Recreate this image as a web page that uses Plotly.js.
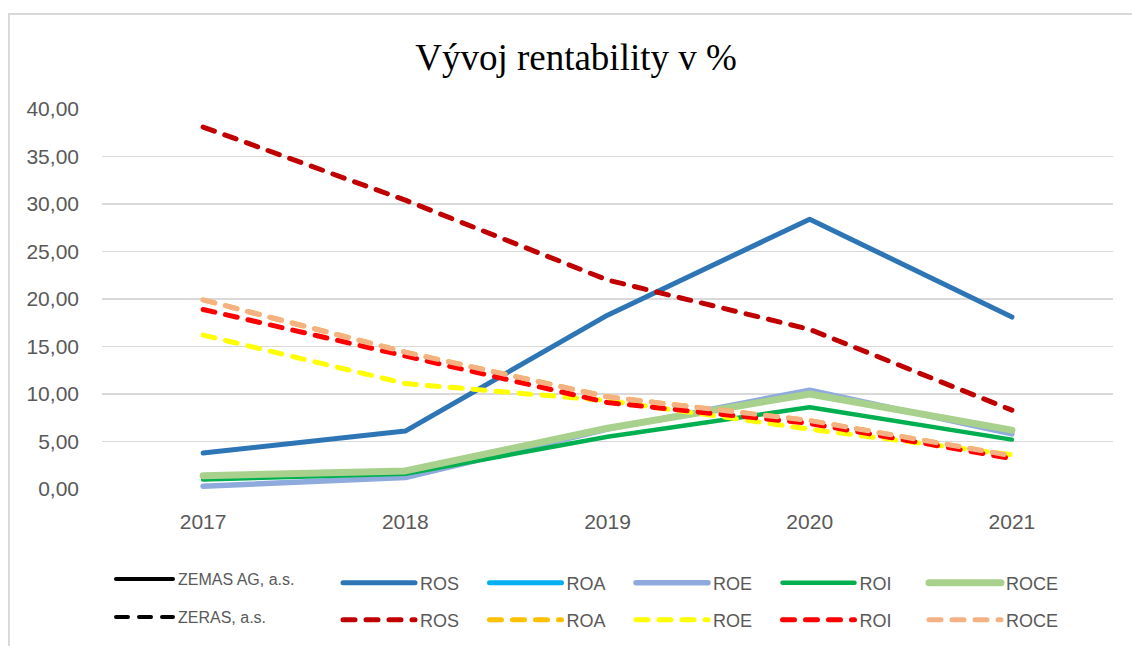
<!DOCTYPE html>
<html>
<head>
<meta charset="utf-8">
<script src="https://cdn.plot.ly/plotly-3.0.1.min.js"></script>
<style>
  html, body { margin: 0; padding: 0; background: #fff; overflow: hidden; }
  #chart { width: 1132px; height: 646px; position: absolute; left: 0; top: 0; }
  #frame { position: absolute; left: 8px; top: 13px; width: 2000px; height: 2000px;
           border-left: 2px solid #d9d9d9; border-top: 2px solid #d9d9d9; pointer-events: none; }
  .js-line { stroke-linecap: round !important; stroke-linejoin: round !important; }
</style>
</head>
<body>
<div id="chart"></div>
<div id="frame"></div>
<script>
// ---- data ----
const years = ["2017", "2018", "2019", "2020", "2021"];
const metricNames = ["ROS", "ROA", "ROE", "ROI", "ROCE"];
const companyA = "ZEMAS AG, a.s.";
const companyB = "ZERAS, a.s.";

// ZEMAS AG, a.s.
const zemasROS  = [3.8, 6.1, 18.3, 28.4, 18.1];
const zemasROA  = [1.4, 1.9, 6.4, 10.0, 6.2];
const zemasROE  = [0.3, 1.2, 6.3, 10.4, 5.8];
const zemasROI  = [1.0, 1.6, 5.5, 8.6, 5.2];
const zemasROCE = [1.4, 1.9, 6.4, 10.0, 6.2];

// ZERAS, a.s.
const zerasROS  = [38.1, 30.4, 22.0, 16.8, 8.3];
const zerasROA  = [19.9, 14.4, 9.7, 7.2, 3.5];
const zerasROE  = [16.2, 11.1, 9.3, 6.3, 3.6];
const zerasROI  = [18.9, 14.0, 9.1, 6.9, 3.2];
const zerasROCE = [19.9, 14.4, 9.7, 7.2, 3.5];

// ---- styles ----
const zemasSeries = [zemasROS, zemasROA, zemasROE, zemasROI, zemasROCE];
const zerasSeries = [zerasROS, zerasROA, zerasROE, zerasROI, zerasROCE];
const zemasColors = ["#2E75B6", "#00B0F0", "#8FAADC", "#00B050", "#A9D18E"];
const zerasColors = ["#C00000", "#FFC000", "#FFFF00", "#FF0000", "#F4B183"];
const zemasWidths = [5, 5, 5.5, 4.5, 7];
const zerasWidths = [5, 5, 5, 5, 5];
const DASH = "12px,11px";
const GREY = "#595959";

const traces = [];
traces.push({ x: [null], y: [null], type: "scatter", mode: "lines", name: companyA,
  line: { color: "#000", width: 4 }, legend: "legend", hoverinfo: "skip" });
traces.push({ x: [null], y: [null], type: "scatter", mode: "lines", name: companyB,
  line: { color: "#000", width: 4, dash: DASH }, legend: "legend2", hoverinfo: "skip" });

metricNames.forEach((m, i) => {
  traces.push({ x: years, y: zemasSeries[i], type: "scatter", mode: "lines", name: m,
    line: { color: zemasColors[i], width: zemasWidths[i] }, legend: "legend3" });
});
metricNames.forEach((m, i) => {
  traces.push({ x: years, y: zerasSeries[i], type: "scatter", mode: "lines", name: m,
    line: { color: zerasColors[i], width: zerasWidths[i], dash: DASH }, legend: "legend4" });
});

const W = 1132, H = 646;
const ML = 102, MR = 19, MT = 109, MB = 157;
const PW = W - ML - MR, PH = H - MT - MB;
const px2x = (px) => (px - ML) / PW;
const py2y = (py) => (H - MB - py) / PH;

const smallLegend = (py) => ({
  xref: "paper", yref: "paper", x: px2x(111), y: py2y(py),
  xanchor: "left", yanchor: "middle", orientation: "v",
  font: { family: "Liberation Sans, Arial, sans-serif", size: 16, color: GREY },
  itemwidth: 57, bgcolor: "rgba(0,0,0,0)", borderwidth: 0, tracegroupgap: 0
});
const rowLegend = (py) => ({
  xref: "paper", yref: "paper", x: px2x(338), y: py2y(py),
  xanchor: "left", yanchor: "middle", orientation: "h",
  font: { family: "Liberation Sans, Arial, sans-serif", size: 18, color: GREY },
  itemwidth: 72, entrywidth: 59.5, entrywidthmode: "pixels",
  bgcolor: "rgba(0,0,0,0)", borderwidth: 0, traceorder: "normal"
});

const layout = {
  width: W, height: H,
  paper_bgcolor: "#fff", plot_bgcolor: "#fff",
  separators: ", ",
  margin: { l: ML, r: MR, t: MT, b: MB, pad: 0, autoexpand: false },
  title: {
    text: "Vývoj rentability v %",
    font: { family: "Liberation Serif, Times New Roman, serif", size: 37, color: "#000" },
    xref: "container", yref: "container", x: 576 / W, xanchor: "center",
    y: 1 - 57 / H, yanchor: "middle"
  },
  xaxis: {
    type: "category", range: [-0.5, 4.5], showgrid: false, zeroline: false, showline: false,
    ticks: "", ticklabelstandoff: 18,
    tickfont: { family: "Liberation Sans, Arial, sans-serif", size: 21, color: GREY }
  },
  yaxis: {
    range: [0, 40], dtick: 5, tick0: 0, tickformat: ".2f",
    showgrid: true, gridcolor: "#d9d9d9", gridwidth: 1.3,
    zeroline: false, showline: false, ticks: "", ticklabelstandoff: 22,
    tickfont: { family: "Liberation Sans, Arial, sans-serif", size: 21, color: GREY }
  },
  showlegend: true,
  legend: smallLegend(579),
  legend2: smallLegend(617),
  legend3: rowLegend(583),
  legend4: rowLegend(620),
  hovermode: false
};

Plotly.newPlot("chart", traces, layout, { staticPlot: true, displayModeBar: false }).then(() => {
  const setLen = (cls, len) => {
    document.querySelectorAll("g." + cls + " .js-line").forEach(p => p.setAttribute("d", "M5,0h" + len));
  };
  setLen("legend", 57);
  setLen("legend2", 57);
  setLen("legend3", 72);
  setLen("legend4", 72);
});
</script>
</body>
</html>
